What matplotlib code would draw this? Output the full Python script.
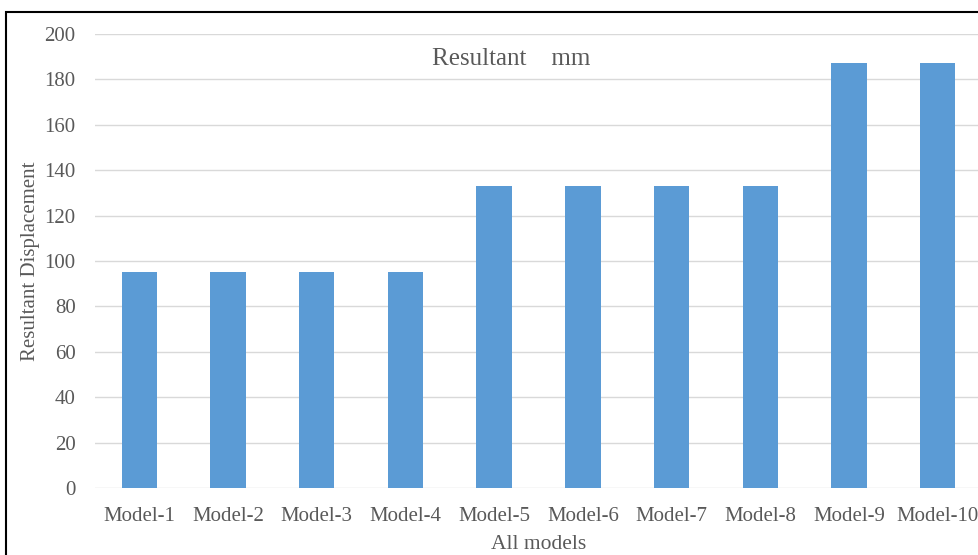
import matplotlib.pyplot as plt
from matplotlib.patches import Rectangle

models = ['Model-1', 'Model-2', 'Model-3', 'Model-4', 'Model-5',
          'Model-6', 'Model-7', 'Model-8', 'Model-9', 'Model-10']
displacement = [95.3, 95.3, 95.3, 95.3, 133.0, 133.0, 133.0, 133.0, 187.4, 187.4]
yticks = [0, 20, 40, 60, 80, 100, 120, 140, 160, 180, 200]

plt.rcParams['font.family'] = ['Liberation Serif', 'DejaVu Serif']
text_gray = '#595959'

fig = plt.figure(figsize=(9.79, 5.55), dpi=100)
ax = fig.add_axes([95 / 979, 1 - 488 / 555, 887 / 979, 454 / 555])

x = range(len(models))
ax.bar(x, displacement, width=0.4, color='#5B9BD5', zorder=3)

ax.set_xlim(-0.5, len(models) - 0.5)
ax.set_ylim(0, 200)
ax.set_yticks(yticks)
ax.set_xticks(list(x))
ax.set_xticklabels(models)

ax.grid(axis='y', color='#D9D9D9', linewidth=1.0, zorder=0)
for s in ax.spines.values():
    s.set_visible(False)
ax.tick_params(axis='both', length=0, labelsize=15, labelcolor=text_gray)
ax.tick_params(axis='y', pad=14)
ax.tick_params(axis='x', pad=14)

ax.set_ylabel('Resultant Displacement', fontsize=15, color=text_gray, va='center')
ax.yaxis.set_label_coords(-0.073, 0.5)
ax.set_xlabel('All models', fontsize=15.5, color=text_gray, va='center')
ax.xaxis.set_label_coords(0.5, -0.124)

fig.text(511 / 979, 1 - 59 / 555, 'Resultant    mm', fontsize=18,
         color=text_gray, ha='center', va='center')

# outer frame around the chart area
fig.patches.append(Rectangle((6 / 979, -0.1), 1.2, 1.1 - 12 / 555,
                             transform=fig.transFigure, fill=False,
                             edgecolor='black', linewidth=1.5))

fig.savefig('out.png', dpi=100)
